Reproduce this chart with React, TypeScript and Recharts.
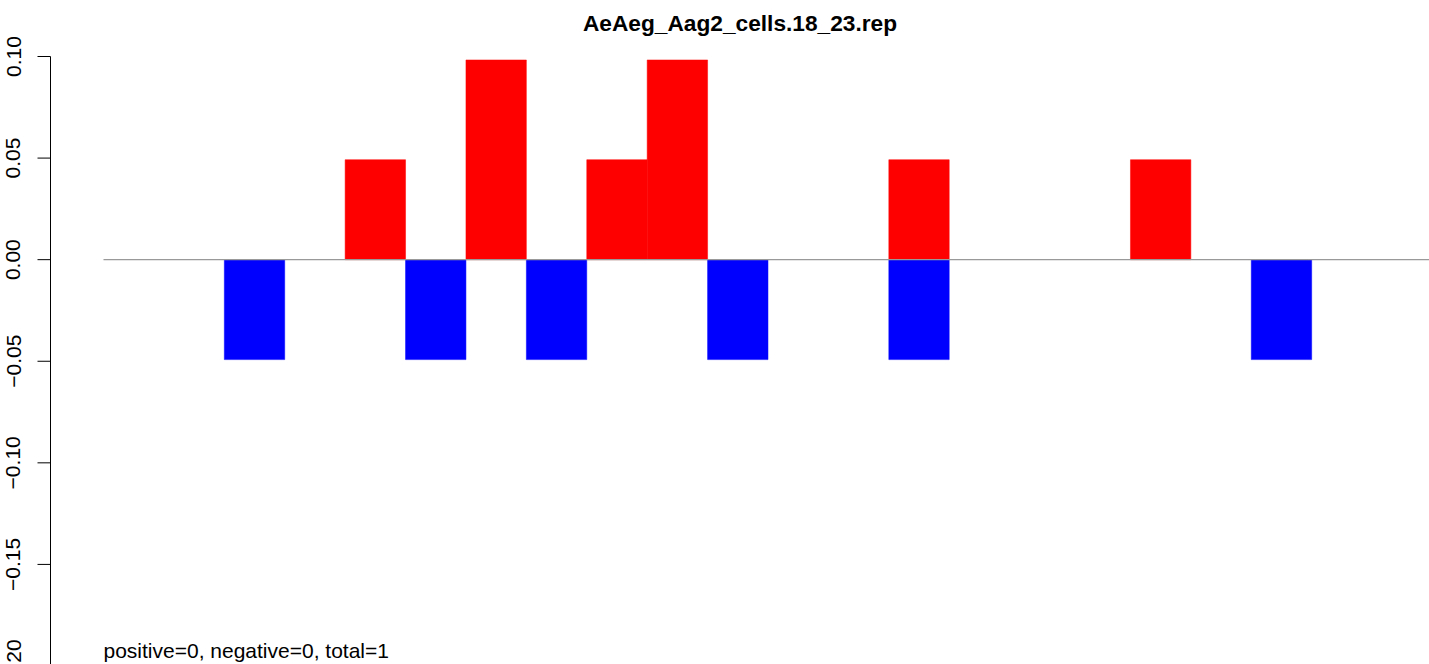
import React from 'react';
import { BarChart, Bar, XAxis, YAxis, ReferenceLine } from 'recharts';

const categories = ['1', '2', '3', '4', '5', '6', '7', '8', '9', '10', '11', '12', '13', '14', '15', '16', '17', '18', '19', '20', '21', '22'];
const positiveValues = [0, 0, 0, 0, 0.0492, 0, 0.0983, 0, 0.0492, 0.0983, 0, 0, 0, 0.0492, 0, 0, 0, 0.0492, 0, 0, 0, 0];
const negativeValues = [0, 0, -0.0492, 0, 0, -0.0492, 0, -0.0492, 0, 0, -0.0492, 0, 0, -0.0492, 0, 0, 0, 0, 0, -0.0492, 0, 0];
const yTicks = [-0.2, -0.15, -0.1, -0.05, 0, 0.05, 0.1];
const titleText = 'AeAeg_Aag2_cells.18_23.rep';
const noteText = 'positive=0, negative=0, total=1';

const data = categories.map((name, i) => ({
  name,
  pos: positiveValues[i],
  neg: negativeValues[i],
}));

const FONT = '"Liberation Sans", Arial, Helvetica, sans-serif';

const fmt = (v: number) => {
  const s = Math.abs(v).toFixed(2);
  return v < 0 ? '\u2212' + s : s;
};

const YTick = (props: any) => {
  const { y, payload } = props;
  const cx = 20.5;
  const cy = y;
  return (
    <text
      x={cx}
      y={cy}
      transform={`rotate(-90, ${cx}, ${cy})`}
      textAnchor="middle"
      fontFamily={FONT}
      fontSize={21}
      fill="#000"
    >
      {fmt(payload.value)}
    </text>
  );
};

export default function App() {
  return (
    <div style={{ position: 'absolute', left: 0, top: 0, width: 1429, height: 664, overflow: 'hidden', background: '#fff' }}>
      <BarChart
        width={1500}
        height={686}
        data={data}
        margin={{ top: 56.5, right: 14.5, bottom: 20, left: 0.5 }}
        barCategoryGap={0}
        barGap={0}
        barSize={60.4}
        stackOffset="sign"
      >
        <XAxis dataKey="name" hide padding={{ left: 53, right: 53 }} />
        <XAxis xAxisId="num" type="number" domain={[0, 22]} hide padding={{ left: 53, right: 53 }} allowDataOverflow />
        <YAxis
          width={50}
          domain={[-0.2, 0.1]}
          ticks={yTicks}
          interval={0}
          allowDataOverflow
          tickSize={13}
          axisLine={{ stroke: '#000', strokeWidth: 1 }}
          tickLine={{ stroke: '#000', strokeWidth: 1 }}
          tick={<YTick />}
        />
        <Bar dataKey="pos" stackId="s" fill="#ff0000" stroke="#ff0000" strokeWidth={0.5} isAnimationActive={false} />
        <Bar dataKey="neg" stackId="s" fill="#0000ff" stroke="#0000ff" strokeWidth={0.5} isAnimationActive={false} />
        <ReferenceLine
          xAxisId="num"
          segment={[{ x: 0, y: 0 }, { x: 22, y: 0 }]}
          stroke="#999999"
          strokeWidth={1.2}
          ifOverflow="visible"
        />
      </BarChart>
      <svg width={1429} height={664} style={{ position: 'absolute', left: 0, top: 0, pointerEvents: 'none' }}>
        <text x={740} y={31} textAnchor="middle" fontFamily={FONT} fontWeight="bold" fontSize={22.7} fill="#000">
          {titleText}
        </text>
        <text x={103.5} y={658} textAnchor="start" fontFamily={FONT} fontSize={21} fill="#000">
          {noteText}
        </text>
      </svg>
    </div>
  );
}
